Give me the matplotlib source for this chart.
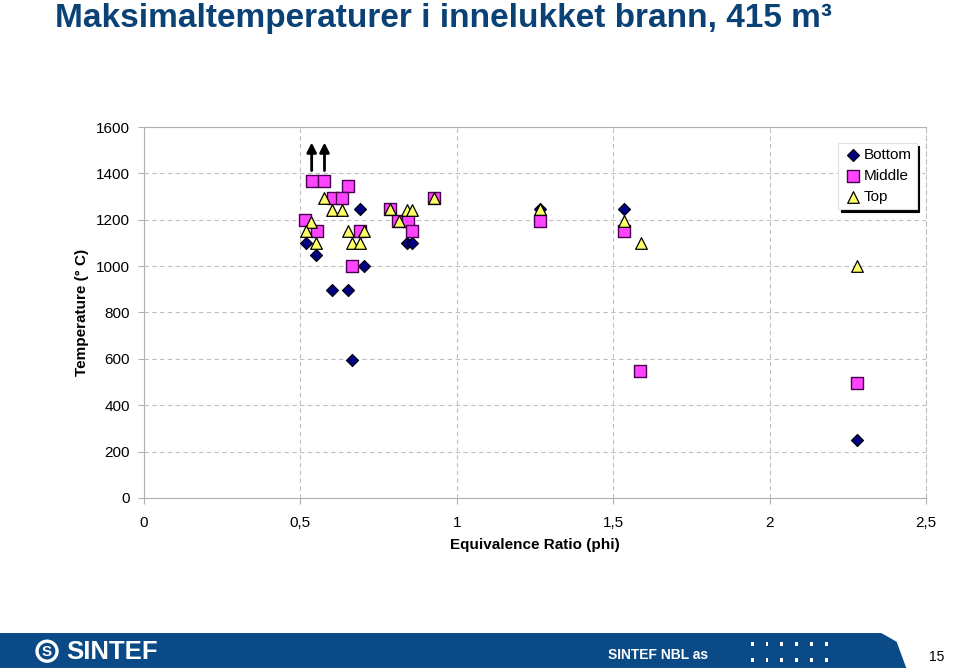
import numpy as np
import matplotlib.pyplot as plt
from matplotlib.patches import Rectangle, Polygon, Ellipse
from matplotlib.ticker import FuncFormatter

plt.rcParams['font.family'] = ['Liberation Sans', 'DejaVu Sans']

# Equivalence ratio (phi) and max temperature (deg C) per position
bottom_x = [0.517, 0.550, 0.602, 0.651, 0.666, 0.690, 0.704, 0.840, 0.858, 1.266, 1.536, 2.278]
bottom_y = [1101, 1048, 897, 897, 595, 1246, 1000, 1101, 1101, 1245, 1246, 250]

middle_x = [0.536, 0.577, 0.651, 0.603, 0.632, 0.786, 0.927, 0.515, 0.552, 0.690,
            0.813, 0.843, 0.856, 0.666, 1.266, 1.536, 1.586, 2.278]
middle_y = [1367, 1367, 1347, 1295, 1295, 1246, 1295, 1199, 1151, 1151,
            1196, 1196, 1151, 1000, 1196, 1151, 548, 495]

top_x = [0.575, 0.602, 0.632, 0.840, 0.858, 0.786, 0.927, 0.534, 0.517, 0.651,
         0.704, 0.550, 0.664, 0.690, 0.815, 1.266, 1.536, 1.589, 2.279]
top_y = [1292, 1242, 1242, 1242, 1242, 1246, 1294, 1192, 1151, 1151,
         1151, 1098, 1098, 1098, 1194, 1245, 1196, 1098, 1000]

# points that exceeded the measuring range (arrows)
arrow_x = [0.536, 0.577]
arrow_y0 = 1400
arrow_y1 = 1545

fig = plt.figure(figsize=(9.6, 6.72), dpi=100)
ax = fig.add_axes([0.15, 0.259, 0.8146, 0.552])

ax.scatter(bottom_x, bottom_y, marker='D', s=38, c='#000080', edgecolors='black',
           linewidths=0.8, label='Bottom', zorder=3)
ax.scatter(middle_x, middle_y, marker='s', s=70, c='#ff44ff', edgecolors='#4a0050',
           linewidths=1.0, label='Middle', zorder=4)
ax.scatter(top_x, top_y, marker='^', s=70, c='#ffff66', edgecolors='black',
           linewidths=0.9, label='Top', zorder=5)

for xa in arrow_x:
    ax.annotate('', xy=(xa, arrow_y1), xytext=(xa, arrow_y0),
                arrowprops=dict(arrowstyle='-|>', color='black', lw=2,
                                mutation_scale=14), zorder=6)

ax.set_xlim(0, 2.5)
ax.set_ylim(0, 1600)
ax.set_xticks(np.arange(0, 2.51, 0.5))
ax.set_yticks(np.arange(0, 1601, 200))
ax.xaxis.set_major_formatter(FuncFormatter(lambda v, p: ('%g' % v).replace('.', ',')))
ax.grid(True, color='#c0c0c0', linestyle=(0, (4, 3)), linewidth=0.8)
ax.set_axisbelow(True)
for s in ['left', 'bottom', 'top']:
    ax.spines[s].set_color('#b0b0b0')
    ax.spines[s].set_linewidth(0.8)
ax.spines['right'].set_color('#c0c0c0')
ax.spines['right'].set_linestyle((0, (4, 3)))
ax.tick_params(colors='#b0b0b0', labelcolor='black', labelsize=11, length=4, width=0.8)
ax.tick_params(axis='y', pad=6)
ax.tick_params(axis='x', pad=9)

ax.set_xlabel('Equivalence Ratio (phi)', fontsize=11, fontweight='bold', labelpad=6)
ax.set_ylabel('Temperature (° C)', fontsize=11, fontweight='bold', labelpad=5)

leg = ax.legend(loc='upper right', bbox_to_anchor=(0.988, 0.957), fontsize=11,
                frameon=True, fancybox=False, shadow={'color': 'black', 'alpha': 1},
                handletextpad=0.1, borderpad=0.35, labelspacing=0.45,
                handlelength=1.2, borderaxespad=0)
leg.get_frame().set_edgecolor('#e0e0e0')
leg.get_frame().set_linewidth(0.8)

# title
fig.text(0.057, 0.960, 'Maksimaltemperaturer i innelukket brann, 415 m³',
         fontsize=24, fontweight='bold', color='#0a4275', va='baseline', ha='left')

# footer band
blue = '#0a4a86'
band = Polygon([[0.0, 0.006], [0.0, 0.058], [0.918, 0.058], [0.934, 0.045],
                [0.944, 0.006]], closed=True, transform=fig.transFigure,
               facecolor=blue, edgecolor='none')
fig.patches.append(band)
# SINTEF logo: ring with an S
fig.patches.append(Ellipse((0.049, 0.031), 20 / 960, 20 / 672, transform=fig.transFigure,
                           facecolor='none', edgecolor='white', linewidth=2.4))
fig.text(0.049, 0.030, 'S', fontsize=11, fontweight='bold', color='white',
         va='center', ha='center')
fig.text(0.069, 0.030, 'SINTEF', fontsize=18.5, fontweight='bold', color='white',
         va='center', ha='left')
fig.text(0.633, 0.025, 'SINTEF NBL as', fontsize=10, fontweight='bold', color='white',
         va='center', ha='left')
for i in range(6):
    for j in range(2):
        fig.patches.append(Rectangle((0.782 + i * 0.0155, 0.015 + j * 0.024), 0.003, 0.006,
                                     transform=fig.transFigure, facecolor='white',
                                     edgecolor='none'))
fig.text(0.984, 0.022, '15', fontsize=10, color='black', va='center', ha='right')

fig.savefig('out.png', dpi=100)
